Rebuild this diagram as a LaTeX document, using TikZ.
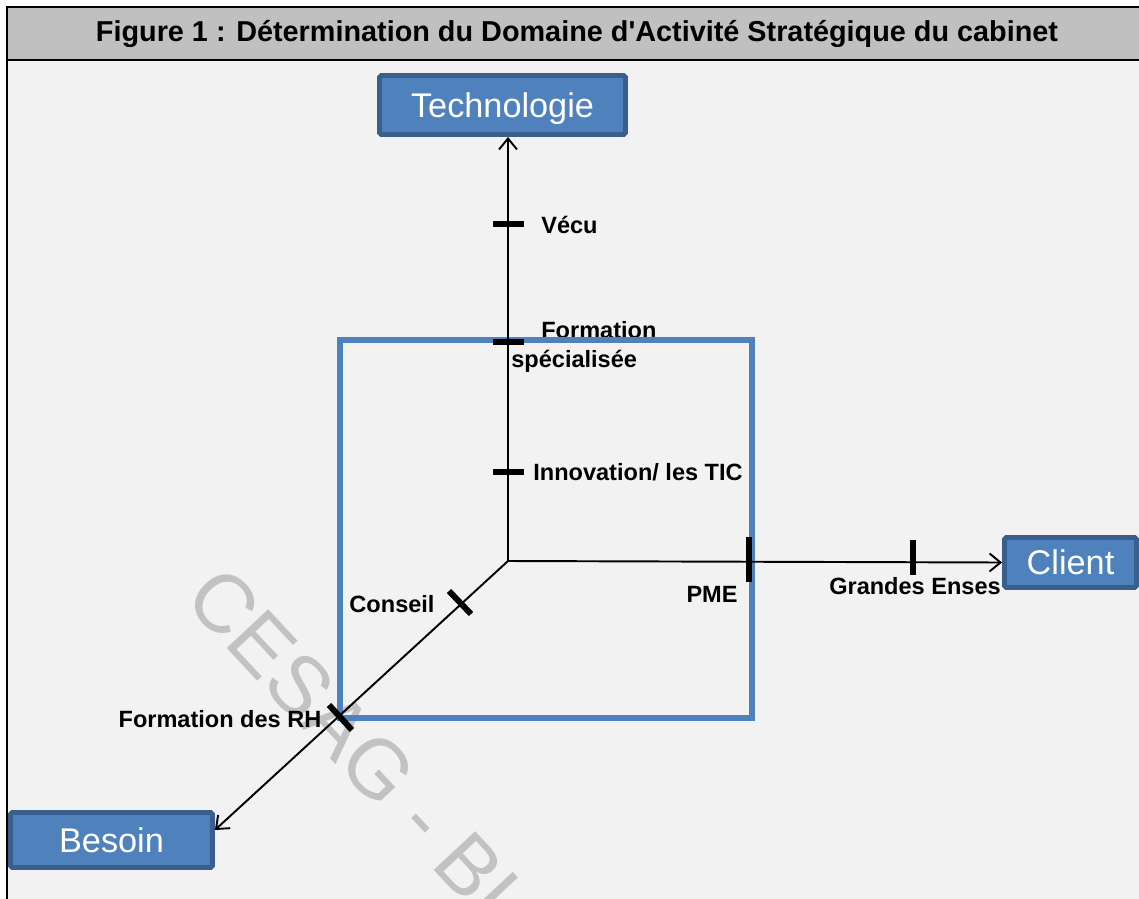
\documentclass[tikz,border=0pt]{standalone}
\usepackage{fontspec}
\setmainfont{Liberation Sans}
\usetikzlibrary{arrows.meta,positioning}
\definecolor{fondgris}{HTML}{F2F2F2}
\definecolor{titregris}{HTML}{C0C0C0}
\definecolor{bleu}{HTML}{4F81BD}
\definecolor{bleufonce}{HTML}{3A5F8C}
\tikzset{
  cadre/.style={black, line width=1.7pt},
  titre/.style={font=\bfseries\fontsize{16.4}{18}\selectfont, inner sep=0pt},
  boite/.style={draw=bleufonce, fill=bleu, line width=2.8pt, rounded corners=1pt,
    text=white, font=\fontsize{19.5}{22}\selectfont, text height=14pt, text depth=0pt},
  carre/.style={draw=bleu, line width=3.4pt},
  axe/.style={black, line width=1.1pt},
  trait/.style={black, line width=3.4pt},
  etiq/.style={font=\bfseries\fontsize{13.4}{15}\selectfont, inner sep=0pt},
}
\begin{document}
\begin{tikzpicture}[x=0.02cm,y=-0.02cm,>={Straight Barb[length=2.2mm,width=3.6mm]}]
	\useasboundingbox (0,0) rectangle (1139,899);
	% fond et bandeau du titre
	\fill[fondgris] (7,7) rectangle (1139,899);
	\fill[titregris] (7,7) rectangle (1139,60);
	\draw[cadre] (7,899)--(7,7)--(1139,7) (7,60)--(1139,60);
	\node[titre, anchor=base] (titre) at (577,41) {Figure 1 : Détermination du Domaine d\textquotesingle Activité Stratégique du cabinet};
	% filigrane
	\node[rotate=-47, anchor=base west, text=black!24, inner sep=0pt,
	  font=\fontsize{47}{47}\selectfont] (filigrane) at (182,600) {CESAG - BI};
	% les trois dimensions
	\node[boite, minimum width=4.92cm, minimum height=1.18cm] (techno) at (502.5,105) {Technologie};
	\node[boite, minimum width=2.64cm, minimum height=1cm] (client) at (1070.5,562.5) {Client};
	\node[boite, minimum width=4.04cm, minimum height=1.1cm] (besoin) at (111.5,840) {Besoin};
	% etiquettes
	\node[etiq, anchor=base west] (vecu) at (541,233) {Vécu};
	\node[etiq, anchor=base west] (formation) at (541,338) {Formation};
	\node[etiq, anchor=base west] (specialisee) at (511,367) {spécialisée};
	\node[etiq, anchor=base west] (innovation) at (533,480) {Innovation/ les TIC};
	\node[etiq, anchor=base] (pme) at (712,602) {PME};
	\node[etiq, anchor=base] (grandes) at (915,594) {Grandes Enses};
	\node[etiq, anchor=base] (conseil) at (392,612) {Conseil};
	\node[etiq, anchor=base] (rh) at (220,727) {Formation des RH};
	% le DAS du cabinet
	\draw[carre] (340,340) rectangle (752,718);
	% axes
	\coordinate (O) at (508,561);
	\draw[axe,->] (O)--(O |- techno.south);
	\draw[axe,->] (O)--(client.west);
	\draw[axe,->] (O)--([yshift=0.2cm]besoin.east);
	% graduations
	\foreach \yy in {224,342,472} \draw[trait] (493,\yy)--(524,\yy);
	\draw[trait] (749,537)--(749,582) (913,540)--(913,575);
	\draw[trait] (449,591)--(471,614) (329,705)--(352,730);
\end{tikzpicture}
\end{document}
